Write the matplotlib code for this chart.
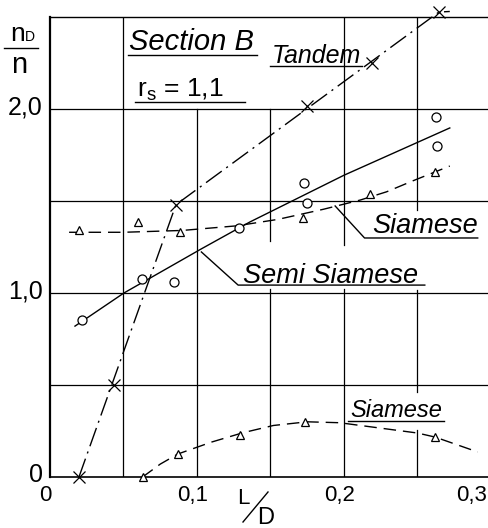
import numpy as np
import matplotlib
matplotlib.use('Agg')
import matplotlib.pyplot as plt
from matplotlib.lines import Line2D

# values (n_D/n against L/D)
tandem_x = [0.0197, 0.0437, 0.0857, 0.1748, 0.219, 0.2646]
tandem_y = [0.0, 0.50, 1.478, 2.016, 2.25, 2.527]
tandem_line_x = [0.0197, 0.0857, 0.2646, 0.272]
tandem_line_y = [0.0, 1.48, 2.527, 2.53]

semi_x = [0.0218, 0.0626, 0.0844, 0.1286, 0.1728, 0.175, 0.2626, 0.263]
semi_y = [0.853, 1.076, 1.06, 1.353, 1.598, 1.49, 1.957, 1.80]
semi_line_x = [0.017, 0.0503, 0.103, 0.136, 0.2, 0.272]
semi_line_y = [0.82, 1.0, 1.24, 1.386, 1.64, 1.897]

siam_hi_x = [0.0197, 0.06, 0.0884, 0.172, 0.218, 0.262]
siam_hi_y = [1.342, 1.386, 1.33, 1.41, 1.54, 1.66]
siam_hi_line_x = [0.013, 0.05, 0.09, 0.127, 0.155, 0.186, 0.211, 0.229, 0.247, 0.272]
siam_hi_line_y = [1.33, 1.33, 1.34, 1.365, 1.40, 1.455, 1.505, 1.55, 1.61, 1.69]

siam_lo_x = [0.063, 0.087, 0.129, 0.1735, 0.262]
siam_lo_y = [0.0, 0.125, 0.228, 0.30, 0.217]
siam_lo_line_x = [0.063, 0.075, 0.087, 0.11, 0.131, 0.152, 0.175, 0.197, 0.2245, 0.25, 0.262, 0.291]
siam_lo_line_y = [0.0, 0.07, 0.125, 0.19, 0.24, 0.28, 0.30, 0.295, 0.266, 0.239, 0.217, 0.136]

xtick_vals = [0.0, 0.1, 0.2]
xtick_labels = ['0', '0,1', '0,2']
ytick_vals = [0.0, 1.0, 2.0]
ytick_labels = ['0', '1,0', '2,0']

NARROW = ['Liberation Sans Narrow', 'Liberation Sans', 'DejaVu Sans']
HAND = ['Liberation Sans', 'DejaVu Sans']
plt.rcParams['font.family'] = NARROW
plt.rcParams['mathtext.fontset'] = 'custom'
plt.rcParams['mathtext.rm'] = 'Liberation Sans'

fig = plt.figure(figsize=(4.88, 5.28), dpi=100)
ax = fig.add_axes([50 / 488, 51 / 528, 438 / 488, 460 / 528])
ax.set_xlim(0, 0.298)
ax.set_ylim(0, 2.5)
ax.set_xticks([])
ax.set_yticks([])
ax.spines['right'].set_visible(False)
ax.spines['left'].set_linewidth(1.6)
ax.spines['bottom'].set_linewidth(1.2)
ax.spines['top'].set_linewidth(1.0)

# hand drawn grid, broken where the labels sit
gkw = dict(color='black', lw=0.9, zorder=1)
for y in [0.5, 1.0, 1.5, 2.0]:
    ax.axhline(y, **gkw)
ax.axvline(0.05, **gkw)
ax.axvline(0.1, ymax=2.0 / 2.5, **gkw)
ax.axvline(0.15, ymax=1.02 / 2.5, **gkw)
ax.axvline(0.15, ymin=1.28 / 2.5, ymax=2.0 / 2.5, **gkw)
ax.axvline(0.2, ymax=1.02 / 2.5, **gkw)
ax.axvline(0.2, ymin=1.26 / 2.5, **gkw)
ax.axvline(0.25, ymax=0.255 / 2.5, **gkw)
ax.axvline(0.25, ymin=0.46 / 2.5, ymax=1.016 / 2.5, **gkw)
ax.axvline(0.25, ymin=1.45 / 2.5, **gkw)

lkw = dict(color='black', lw=1.0, zorder=3)
ax.plot(tandem_line_x, tandem_line_y, linestyle=(0, (14, 4, 1.5, 4)), clip_on=False, **lkw)
ax.plot(semi_line_x, semi_line_y, linestyle='-', **lkw)
ax.plot(siam_hi_line_x, siam_hi_line_y, linestyle=(0, (9, 5)), **lkw)
ax.plot(siam_lo_line_x, siam_lo_line_y, linestyle=(0, (9, 5)), clip_on=False, **lkw)

mkw = dict(color='black', linestyle='none', markeredgewidth=0.9, zorder=4, clip_on=False)
ax.plot(tandem_x, tandem_y, marker='x', markersize=8, **mkw)
ax.plot(semi_x, semi_y, marker='o', markersize=6.5, markerfacecolor='white', **mkw)
ax.plot(siam_hi_x, siam_hi_y, marker='^', markersize=6, markerfacecolor='white', **mkw)
ax.plot(siam_lo_x, siam_lo_y, marker='^', markersize=5.5, markerfacecolor='white', **mkw)

# tick labels
for xv, lab in zip(xtick_vals, xtick_labels):
    ax.text(xv - 0.003, -0.1, lab, ha='center', va='center', fontsize=16,
            family=NARROW, clip_on=False)
# last x label sits on the right edge of the sheet
fig.text(487 / 488, 1 - 495 / 528, '0,3', ha='right', va='center', fontsize=16,
         family=NARROW)
for yv, lab in zip(ytick_vals, ytick_labels):
    ax.text(-0.005, yv + 0.01, lab, ha='right', va='center', fontsize=18,
            family=NARROW, clip_on=False)

# labels with underlines and leaders
ukw = dict(color='black', lw=1.0, clip_on=False, zorder=3)
ax.text(0.054, 2.32, 'Section B', fontsize=21, style='italic', family=HAND)
ax.plot([0.053, 0.141], [2.293, 2.293], **ukw)
ax.text(0.059, 2.065, r'$\mathregular{r_s}$ = 1,1', fontsize=19, family=HAND)
ax.plot([0.058, 0.133], [2.038, 2.038], **ukw)
ax.text(0.151, 2.25, 'Tandem', fontsize=18, style='italic', family=HAND)
ax.plot([0.150, 0.212], [2.234, 2.234], **ukw)
ax.text(0.219, 1.326, 'Siamese', fontsize=19.5, style='italic', family=HAND)
ax.plot([0.194, 0.214, 0.291], [1.473, 1.299, 1.299], **ukw)
ax.text(0.1313, 1.055, 'Semi Siamese', fontsize=19.5, style='italic', family=HAND)
ax.plot([0.103, 0.128, 0.255], [1.223, 1.043, 1.043], **ukw)
ax.text(0.204, 0.326, 'Siamese', fontsize=17, style='italic', family=HAND)
ax.plot([0.203, 0.268], [0.304, 0.304], **ukw)

# axis titles n_D / n and L/D
fig.text(10 / 488, 1 - 41 / 528, 'n', fontsize=19, family=NARROW)
fig.text(25 / 488, 1 - 41 / 528, 'D', fontsize=10, family=NARROW)
fig.add_artist(Line2D([4 / 488, 38 / 488], [1 - 48 / 528, 1 - 48 / 528],
                      color='black', lw=1.0))
fig.text(11 / 488, 1 - 73 / 528, 'n', fontsize=21, family=NARROW)
fig.text(237 / 488, 1 - 504 / 528, 'L', fontsize=16, family=NARROW)
fig.add_artist(Line2D([243 / 488, 268 / 488], [1 - 522 / 528, 1 - 492 / 528],
                      color='black', lw=1.0))
fig.text(257 / 488, 1 - 524 / 528, 'D', fontsize=17, family=NARROW)

fig.savefig('out.png', dpi=100)
